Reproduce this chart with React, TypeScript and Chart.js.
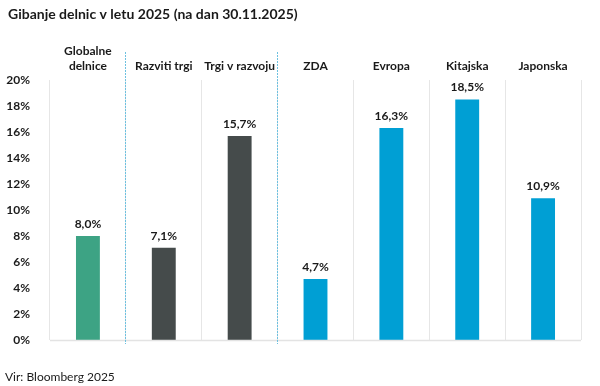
import React, { useEffect, useRef } from "react";
import { Chart, registerables } from "chart.js";

Chart.register(...registerables);

const TITLE = "Gibanje delnic v letu 2025 (na dan 30.11.2025)";
const SOURCE = "Vir: Bloomberg 2025";
const categories: string[][] = [
  ["Globalne", "delnice"],
  ["Razviti trgi"],
  ["Trgi v razvoju"],
  ["ZDA"],
  ["Evropa"],
  ["Kitajska"],
  ["Japonska"],
];
const values = [8.0, 7.1, 15.7, 4.7, 16.3, 18.5, 10.9];
const barColors = ["#3DA384", "#454B4B", "#454B4B", "#009FD4", "#009FD4", "#009FD4", "#009FD4"];
const separatorsAfter = [0, 2];

const FONT = "Lato, 'Open Sans', sans-serif";

const overlay = {
  id: "overlay",
  afterDraw(chart: any) {
    const ctx = chart.ctx;
    const area = chart.chartArea;
    const x = chart.scales.x;
    ctx.save();
    // title
    ctx.fillStyle = "#1a1a1a";
    ctx.font = `bold 14px ${FONT}`;
    ctx.textAlign = "left";
    ctx.textBaseline = "middle";
    ctx.fillText(TITLE, 8, 14);
    // source
    ctx.font = `12px ${FONT}`;
    ctx.fillText(SOURCE, 5, 377);
    // bottom axis line
    ctx.strokeStyle = "#e3e3e3";
    ctx.lineWidth = 1.5;
    ctx.beginPath();
    ctx.moveTo(area.left, area.bottom + 0.5);
    ctx.lineTo(area.right, area.bottom + 0.5);
    ctx.stroke();
    // category labels
    ctx.font = `bold 12px ${FONT}`;
    ctx.textAlign = "center";
    ctx.fillStyle = "#1a1a1a";
    categories.forEach((lines, i) => {
      const cx = x.getPixelForValue(i);
      const n = lines.length;
      lines.forEach((l, j) => {
        ctx.fillText(l, cx, 66 - (n - 1 - j) * 15);
      });
    });
    // data labels
    const meta = chart.getDatasetMeta(0);
    meta.data.forEach((bar: any, i: number) => {
      ctx.fillText(values[i].toFixed(1).replace(".", ",") + "%", bar.x, bar.y - 12);
    });
    // dotted separators
    ctx.strokeStyle = "#6EC1E0";
    ctx.lineWidth = 1;
    ctx.setLineDash([2, 1]);
    separatorsAfter.forEach((i) => {
      const px = Math.round((x.getPixelForValue(i) + x.getPixelForValue(i + 1)) / 2) - 0.5;
      ctx.beginPath();
      ctx.moveTo(px, 52);
      ctx.lineTo(px, 344);
      ctx.stroke();
    });
    ctx.restore();
  },
};

export default function App() {
  const ref = useRef<HTMLCanvasElement>(null);
  useEffect(() => {
    const chart = new Chart(ref.current!, {
      type: "bar",
      data: {
        labels: categories.map((c) => c.join(" ")),
        datasets: [
          {
            data: values,
            backgroundColor: barColors,
            barPercentage: 0.63,
            categoryPercentage: 0.5,
          },
        ],
      },
      options: {
        animation: false,
        responsive: false,
        maintainAspectRatio: false,
        layout: { padding: { left: 0, right: 19, top: 0, bottom: 46 } },
        plugins: { legend: { display: false }, tooltip: { enabled: false }, title: { display: false } },
        scales: {
          x: {
            position: "top",
            offset: true,
            grid: { display: true, offset: true, color: "#e6e6e6", drawTicks: false, lineWidth: 1 },
            border: { display: false },
            ticks: { display: false },
            afterFit: (s: any) => {
              s.height = 80;
            },
          },
          y: {
            min: 0,
            max: 20,
            grid: { display: false },
            border: { display: false },
            ticks: {
              stepSize: 2,
              padding: 12,
              color: "#1a1a1a",
              font: { family: FONT, size: 12, weight: "bold" },
              callback: (v: any) => v + "%",
            },
            afterFit: (s: any) => {
              s.width = 50;
            },
          },
        },
      },
      plugins: [overlay],
    });
    return () => chart.destroy();
  }, []);
  return (
    <div style={{ position: "fixed", left: 0, top: 0, width: 600, height: 386, background: "#fff" }}>
      <canvas ref={ref} width={600} height={386} style={{ width: 600, height: 386 }} />
    </div>
  );
}
